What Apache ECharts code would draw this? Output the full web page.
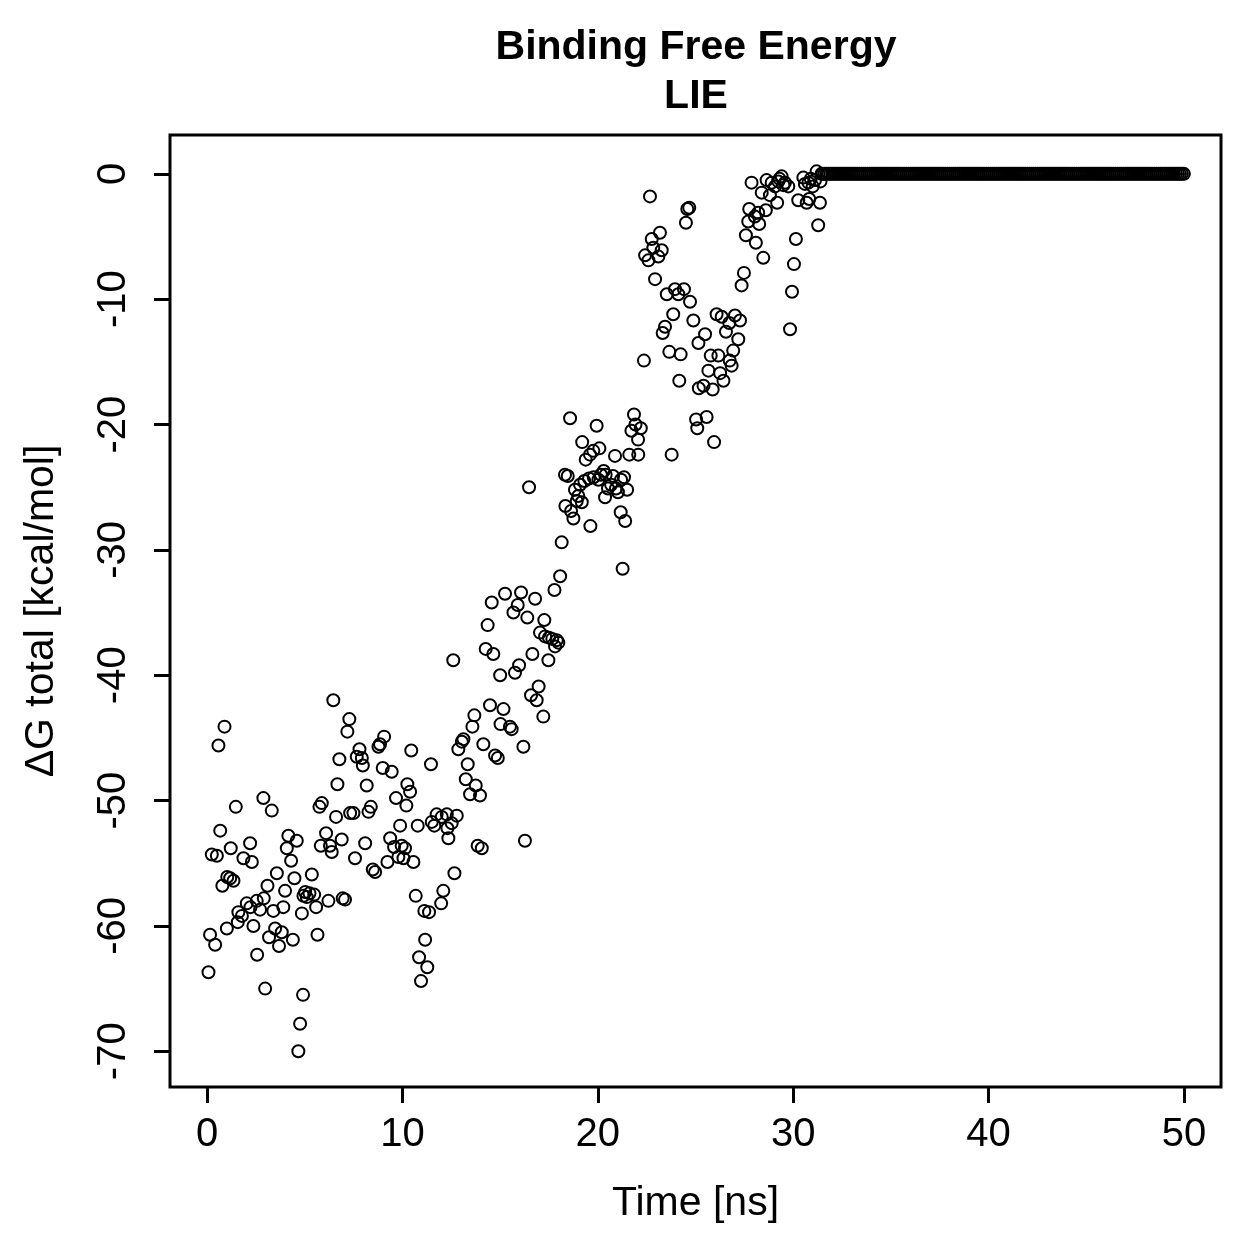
<!DOCTYPE html>
<html>
<head>
<meta charset="utf-8">
<script src="https://cdn.jsdelivr.net/npm/echarts@6/dist/echarts.min.js"></script>
<style>
  html, body { margin: 0; padding: 0; background: #fff; }
  #chart { width: 1259px; height: 1259px; }
</style>
</head>
<body>
<div id="chart"></div>
<script>
// time [ns] and ΔG [kcal/mol] (scattered part)
const timeNs = [
  0.07, 0.15, 0.24, 0.41, 0.5, 0.58, 0.67, 0.78, 0.89, 1.01, 1.03, 1.18, 1.21, 1.35, 1.47, 1.57, 1.6, 1.78, 1.86, 2.03,
  2.2, 2.22, 2.29, 2.37, 2.54, 2.56, 2.71, 2.88, 2.9, 2.97, 3.09, 3.17, 3.31, 3.39, 3.48, 3.57, 3.68, 3.82, 3.9, 3.99,
  4.08, 4.16, 4.3, 4.39, 4.47, 4.59, 4.67, 4.76, 4.85, 4.91, 4.93,
  5.02, 5.1, 5.24, 5.36, 5.48, 5.58, 5.65, 5.75, 5.82, 5.87, 6.09, 6.21, 6.29, 6.38, 6.46, 6.6, 6.67, 6.77, 6.89, 6.94,
  7.06, 7.18, 7.28, 7.32, 7.49, 7.57, 7.66, 7.8, 7.92, 7.97, 8.09, 8.17, 8.26, 8.38, 8.48, 8.6, 8.77, 8.85, 8.99, 9.06,
  9.23, 9.37, 9.45, 9.57, 9.67, 9.79, 9.88, 9.96, 10.05, 10.13,
  10.2, 10.25, 10.39, 10.45, 10.56, 10.68, 10.78, 10.85, 10.95, 11.12, 11.16, 11.27, 11.36, 11.46, 11.5, 11.63, 11.75,
  11.98, 12.01, 12.09, 12.27, 12.3, 12.35, 12.52, 12.6, 12.66, 12.78, 12.86, 13.04, 13.12, 13.24, 13.34, 13.46, 13.58,
  13.68, 13.75, 13.85, 13.97, 14.06, 14.14, 14.26, 14.36, 14.48, 14.57, 14.65, 14.74, 14.88, 15.0, 15.02, 15.17,
  15.25, 15.5, 15.59, 15.68, 15.76, 15.9, 15.97, 16.07, 16.19, 16.27, 16.39, 16.48, 16.58, 16.65, 16.79, 16.87, 16.97,
  17.04, 17.21, 17.26, 17.3, 17.47, 17.5, 17.67, 17.78, 17.81, 17.9, 17.98, 18.07, 18.15, 18.32, 18.34, 18.46, 18.58,
  18.63, 18.75, 18.83, 18.92, 19.0, 19.09, 19.18, 19.2, 19.31, 19.38, 19.55, 19.6, 19.62, 19.77, 19.79, 19.94, 20.03,
  20.08, 20.16, 20.3, 20.37, 20.4, 20.52, 20.68, 20.78, 20.88, 20.93, 21.03, 21.17, 21.19, 21.27, 21.34, 21.4, 21.5,
  21.61, 21.72, 21.85, 21.93, 22.06, 22.07, 22.2, 22.36, 22.42, 22.59, 22.67, 22.76, 22.84, 22.93, 23.1, 23.18, 23.27,
  23.32, 23.44, 23.53, 23.66, 23.78, 23.86, 23.95, 24.12, 24.17, 24.24, 24.41, 24.51, 24.58, 24.68, 24.72, 24.89,
  25.03, 25.09, 25.15, 25.17, 25.41, 25.49, 25.57, 25.66, 25.78, 25.88, 25.95, 26.08, 26.17, 26.26, 26.34, 26.43,
  26.56, 26.73, 26.75, 26.85, 26.93, 27.02, 27.19, 27.28, 27.36, 27.48, 27.58, 27.7, 27.75, 27.87, 28.04, 28.09,
  28.21, 28.26, 28.39, 28.47, 28.6, 28.64, 28.81, 28.9, 29.07, 29.18, 29.24, 29.3, 29.41, 29.5, 29.58, 29.75, 29.84,
  29.94, 30.04, 30.14, 30.26, 30.52, 30.6, 30.69, 30.78, 30.82, 30.9, 31.0, 31.12, 31.2, 31.28, 31.37, 31.4, 31.45
];
const deltaG = [
  -63.7, -60.7, -54.3, -61.5, -54.4, -45.6, -52.4, -56.8, -44.1, -60.2, -56.1, -56.2, -53.8, -56.4, -50.5, -59.7, -58.9, -59.2, -54.6, -58.2,
  -53.4, -58.5, -54.9, -60.0, -58.0, -62.3, -58.7, -49.8, -57.8, -65.0, -56.8, -60.9, -50.8, -58.8, -60.2, -55.8, -61.6, -60.5, -58.5, -57.2,
  -53.8, -52.8, -54.8, -61.1, -56.2, -53.2, -70.0, -67.8, -59.0, -65.5, -57.6,
  -57.3, -57.7, -57.4, -55.9, -57.5, -58.5, -60.7, -50.5, -53.6, -50.2, -52.6, -58.0, -53.6, -54.1, -42.0, -51.3, -48.7, -46.7, -53.1, -57.8,
  -57.9, -44.5, -43.5, -51.0, -51.0, -54.6, -46.5, -45.9, -46.6, -47.2, -53.4, -48.8, -50.9, -50.5, -55.5, -55.7, -45.7, -45.5, -47.4, -44.9,
  -54.9, -53.0, -47.7, -53.7, -49.8, -54.5, -52.0, -53.6, -54.6, -53.8,
  -50.4, -48.7, -49.3, -46.0, -54.9, -57.6, -52.0, -62.5, -64.4, -58.8, -61.1, -63.3, -58.9, -47.1, -51.7, -52.0, -51.1,
  -58.2, -51.3, -57.2, -51.1, -52.2, -53.0, -51.8, -38.8, -55.8, -51.2, -45.9, -45.3, -45.1, -48.3, -47.1, -49.5, -44.1,
  -43.2, -48.8, -53.6, -49.6, -53.8, -45.5, -37.9, -36.0, -42.4, -34.2, -38.3, -46.4, -46.6, -40.0, -43.9, -42.7,
  -33.5, -44.1, -44.3, -35.0, -39.8, -34.4, -39.2, -33.4, -45.7, -53.2, -35.4, -25.0, -41.6, -38.3, -33.9, -42.0, -40.9,
  -36.6, -43.3, -35.6, -36.9, -38.8, -37.0, -37.1, -33.2, -37.7, -37.2, -37.4, -32.1, -29.4, -24.0, -26.5, -24.1, -19.5,
  -26.9, -27.5, -25.2, -26.1, -25.7, -24.8, -26.2, -21.4, -24.5, -22.8, -24.3, -22.4, -28.1, -22.1, -24.2, -20.1, -24.4,
  -21.9, -24.0, -23.7, -25.8, -24.0, -25.1, -24.8, -24.1, -22.5, -25.1, -25.4, -27.0, -24.4, -31.5, -24.2, -27.7, -25.2,
  -22.4, -20.5, -19.2, -20.0, -21.2, -22.4, -20.3, -14.9, -6.5, -6.9, -1.8, -5.2, -5.9, -8.4, -6.6, -4.7, -6.1,
  -12.7, -12.2, -9.6, -14.2, -22.4, -11.2, -9.2, -9.6, -16.5, -14.4, -9.2, -3.9, -2.8, -2.7, -10.2, -11.7,
  -19.6, -20.3, -13.5, -17.1, -16.9, -12.8, -19.4, -15.7, -14.5, -17.2, -21.4, -11.2, -14.5, -15.9, -11.4, -16.5,
  -12.6, -11.9, -14.9, -15.3, -14.1, -11.3, -13.2, -11.7, -8.9, -7.9, -4.9, -3.8, -2.8, -0.7, -3.4, -5.5,
  -3.1, -4.0, -1.5, -6.7, -2.9, -0.5, -1.7, -0.7, -1.0, -2.3, -0.6, -0.4, -0.2, -0.9, -0.7, -1.0, -12.4,
  -9.4, -7.2, -5.2, -2.1, -0.3, -0.8, -2.3, -0.7, -2.0, -0.4, -1.0, -0.5, 0.2, -4.1, -2.3, -0.6, 0.0
];
// after ~31.5 ns the value sits at 0 for every 0.1 ns frame up to 50 ns
const flatStart = 31.5;
const flatEnd = 50;
const frameStep = 0.1;
const flatValue = 0;

const xTicks = [0, 10, 20, 30, 40, 50];
const yTicks = [-70, -60, -50, -40, -30, -20, -10, 0];

const points = timeNs.map((t, i) => [t, deltaG[i]]);
const nFlat = Math.round((flatEnd - flatStart) / frameStep);
for (let k = 0; k <= nFlat; k++) {
  points.push([+(flatStart + k * frameStep).toFixed(1), flatValue]);
}

const font = '"Liberation Sans", Arial, Helvetica, sans-serif';

const chart = echarts.init(document.getElementById('chart'), null, { renderer: 'canvas' });
chart.setOption({
  backgroundColor: '#fff',
  animation: false,
  title: {
    text: 'Binding Free Energy\nLIE',
    textAlign: 'center',
    left: 691,
    top: 18,
    textStyle: {
      fontFamily: font,
      fontSize: 41,
      fontWeight: 'bold',
      color: '#000',
      lineHeight: 49
    }
  },
  grid: {
    left: 170,
    right: 38,
    top: 135,
    bottom: 172,
    show: true,
    borderColor: '#000',
    borderWidth: 3,
    backgroundColor: 'transparent'
  },
  xAxis: {
    type: 'value',
    min: -1.9,
    max: 51.9,
    name: 'Time [ns]',
    nameLocation: 'middle',
    nameGap: 96,
    nameTextStyle: { fontFamily: font, fontSize: 41, color: '#000' },
    splitLine: { show: false },
    axisLine: { show: false, onZero: false },
    axisTick: { show: true, inside: false, length: 16, lineStyle: { color: '#000', width: 3 }, customValues: xTicks },
    axisLabel: { fontFamily: font, fontSize: 40, color: '#000', margin: 28, customValues: xTicks }
  },
  yAxis: {
    type: 'value',
    min: -72.85,
    max: 3.1,
    name: 'ΔG total [kcal/mol]',
    nameLocation: 'middle',
    nameGap: 108,
    nameTextStyle: { fontFamily: font, fontSize: 41, color: '#000' },
    splitLine: { show: false },
    axisLine: { show: false, onZero: false },
    axisTick: { show: true, inside: false, length: 16, lineStyle: { color: '#000', width: 3 }, customValues: yTicks },
    axisLabel: { fontFamily: font, fontSize: 40, color: '#000', margin: 36, rotate: 90, customValues: yTicks }
  },
  series: [{
    type: 'scatter',
    data: points,
    symbol: 'circle',
    symbolSize: 12,
    itemStyle: { color: 'rgba(0,0,0,0)', borderColor: '#000', borderWidth: 2, opacity: 1 },
    emphasis: { disabled: true }
  }]
});
</script>
</body>
</html>
